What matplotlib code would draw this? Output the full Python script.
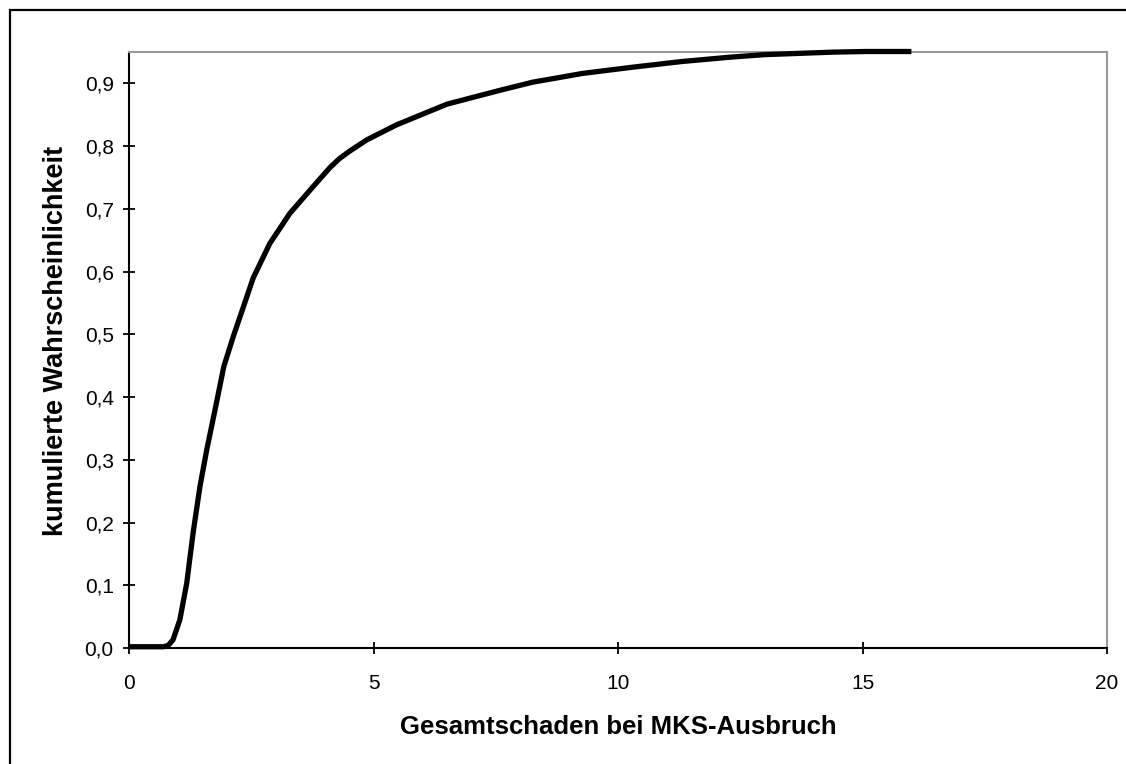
#!/usr/bin/env python
# -*- coding: utf-8 -*-

'''
Kumulierte Wahrscheinlichkeit des Gesamtschadens bei MKS-Ausbruch
'''

import matplotlib
matplotlib.use('Agg')
import matplotlib.pyplot as plt
import matplotlib.ticker as ticker
from matplotlib.patches import Rectangle

# Werte
schaden = [0.0, 0.7, 0.8, 0.9, 1.04, 1.18, 1.31, 1.45, 1.59, 1.76, 1.94,
           2.13, 2.34, 2.54, 2.88, 3.29, 3.77, 4.11, 4.3, 4.51, 4.86, 5.47,
           6.5, 7.58, 8.25, 9.27, 10.3, 11.3, 12.3, 13.0, 13.7, 14.4, 15.07,
           16.0]
kum_wahrsch = [0.002, 0.002, 0.004, 0.013, 0.045, 0.103, 0.183, 0.257,
               0.316, 0.380, 0.449, 0.496, 0.544, 0.590, 0.645, 0.693,
               0.736, 0.766, 0.780, 0.792, 0.810, 0.834, 0.867, 0.889,
               0.902, 0.916, 0.926, 0.935, 0.942, 0.946, 0.948, 0.950,
               0.951, 0.951]
x_ticks = [0, 5, 10, 15, 20]
y_ticks = [0.0, 0.1, 0.2, 0.3, 0.4, 0.5, 0.6, 0.7, 0.8, 0.9]

plt.rcParams['font.family'] = ['Liberation Sans', 'DejaVu Sans']


def plot():
    fig = plt.figure(figsize=(11.26, 7.64), dpi=100)
    ax = fig.add_axes([129 / 1126, 1 - 648 / 764,
                       (1107 - 129) / 1126, (648 - 51.5) / 764])

    ax.plot(schaden, kum_wahrsch, color='black', linewidth=3.8,
            solid_joinstyle='round', solid_capstyle='butt', clip_on=False,
            zorder=5)

    ax.set_xlim(0, 20)
    ax.set_ylim(0, 0.951)
    ax.xaxis.set_major_locator(ticker.FixedLocator(x_ticks))
    ax.yaxis.set_major_locator(ticker.FixedLocator(y_ticks))
    ax.yaxis.set_major_formatter(
        ticker.FuncFormatter(lambda y, _: '{:.1f}'.format(y).replace('.', ',')))

    # Achsen wie in Excel: links/unten schwarz, oben/rechts grau
    for s in ['left', 'bottom']:
        ax.spines[s].set_color('black')
        ax.spines[s].set_linewidth(1.5)
    for s in ['top', 'right']:
        ax.spines[s].set_color('#999999')
        ax.spines[s].set_linewidth(1.5)
    ax.tick_params(direction='inout', length=8, width=1.3, labelsize=15,
                   color='black')
    ax.tick_params(axis='y', pad=7)
    ax.tick_params(axis='x', pad=15)

    ax.set_xlabel('Gesamtschaden bei MKS-Ausbruch', fontsize=18.5,
                  fontweight='bold')
    ax.set_ylabel('kumulierte Wahrscheinlichkeit', fontsize=19.5,
                  fontweight='bold')
    ax.xaxis.set_label_coords(0.5, -0.112)
    ax.yaxis.set_label_coords(-0.061, 0.514)

    # Rahmen um das Diagramm
    fig.patches.append(Rectangle((10 / 1126, -0.05), 1.1, 1 - 10 / 764 + 0.05,
                                 transform=fig.transFigure, fill=False,
                                 edgecolor='black', linewidth=1.6))

    fig.savefig('out.png', dpi=100)


if __name__ == '__main__':
    plot()
